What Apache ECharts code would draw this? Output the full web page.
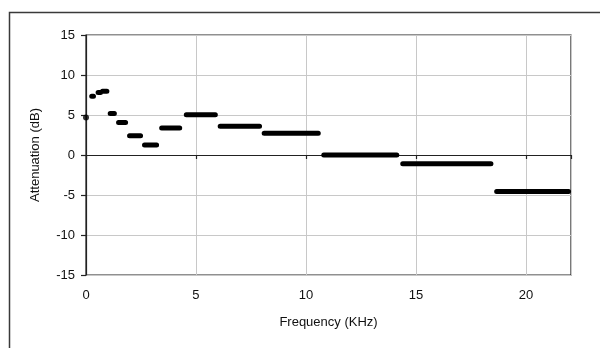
<!DOCTYPE html>
<html>
<head>
<meta charset="utf-8">
<script src="https://cdn.jsdelivr.net/npm/echarts@6/dist/echarts.min.js"></script>
<style>
html,body{margin:0;padding:0;background:#fff;}
#chart{width:600px;height:348px;}
</style>
</head>
<body>
<div id="chart"></div>
<script>
// Data (frequency in kHz, attenuation in dB)
var singleFreq = [0];
var singleValue = [4.68];
var segStart = [0.26, 0.55, 0.75, 1.10, 1.48, 1.98, 2.66, 3.44, 4.56, 6.10, 8.10, 10.81, 14.40, 18.67];
var segEnd   = [0.34, 0.66, 0.95, 1.29, 1.80, 2.48, 3.21, 4.26, 5.88, 7.89, 10.56, 14.13, 18.41, 21.94];
var segValue = [7.34, 7.80, 7.97, 5.20, 4.05, 2.42, 1.25, 3.37, 5.02, 3.58, 2.72, 0.00, -1.08, -4.57];
var xTicks = [0, 5, 10, 15, 20];
var yTicks = [-15, -10, -5, 0, 5, 10, 15];
var xMax = 22.05;

var segData = [];
for (var i = 0; i < segStart.length; i++) {
  segData.push([segStart[i], segValue[i]]);
  segData.push([segEnd[i], segValue[i]]);
  segData.push(['-', '-']);
}
var dotData = singleFreq.map(function (f, i) { return [f, singleValue[i]]; });

var font = 'Liberation Sans, Arial, sans-serif';
var chart = echarts.init(document.getElementById('chart'), null, {renderer: 'canvas'});
chart.setOption({
  animation: false,
  backgroundColor: '#fff',
  graphic: [{
    type: 'rect', left: 7, top: 10, silent: true,
    shape: {x: 0, y: 0, width: 620, height: 400},
    style: {fill: 'none', stroke: '#3a3a3a', lineWidth: 1.5}
  }],
  grid: {left: 86, top: 35, right: 29, bottom: 73, show: true,
         borderColor: '#222', borderWidth: 1.2, backgroundColor: 'transparent'},
  xAxis: [{
    type: 'value', position: 'bottom', min: 0, max: xMax, interval: 5,
    axisLine: {show: false, onZero: false},
    axisTick: {show: false},
    splitLine: {show: true, lineStyle: {color: '#c8c8c8', width: 1}},
    axisLabel: {margin: 14, color: '#111', fontFamily: font, fontSize: 13, showMaxLabel: false,
      formatter: function (v) { return xTicks.indexOf(v) >= 0 ? String(v) : ''; }},
    name: 'Frequency (KHz)', nameLocation: 'middle', nameGap: 41,
    nameTextStyle: {color: '#111', fontFamily: font, fontSize: 13}
  }, {
    type: 'value', position: 'top', min: 0, max: xMax, interval: 5,
    axisLine: {show: true, onZero: true, lineStyle: {color: '#222', width: 1.2}},
    axisTick: {show: true, inside: true, length: 4, lineStyle: {color: '#222', width: 1.2}},
    axisLabel: {show: false},
    splitLine: {show: false}
  }],
  yAxis: {
    type: 'value', min: -15, max: 15, interval: 5,
    axisLine: {show: true, onZero: false, lineStyle: {color: '#222', width: 1.2}},
    axisTick: {show: true, length: 5, lineStyle: {color: '#222', width: 1.2}},
    splitLine: {show: true, lineStyle: {color: '#c8c8c8', width: 1}},
    axisLabel: {margin: 11, color: '#111', fontFamily: font, fontSize: 13,
      formatter: function (v) { return yTicks.indexOf(v) >= 0 ? String(v) : ''; }},
    name: 'Attenuation (dB)', nameLocation: 'middle', nameGap: 44,
    nameTextStyle: {color: '#111', fontFamily: font, fontSize: 13}
  },
  series: [{
    type: 'line', xAxisIndex: 0, data: segData, showSymbol: false, symbol: 'none',
    connectNulls: false, clip: true,
    lineStyle: {color: '#000', width: 5, cap: 'round'}
  }, {
    type: 'scatter', xAxisIndex: 0, data: dotData, symbol: 'circle', symbolSize: 6,
    clip: false, itemStyle: {color: '#000'}
  }]
});
</script>
</body>
</html>
